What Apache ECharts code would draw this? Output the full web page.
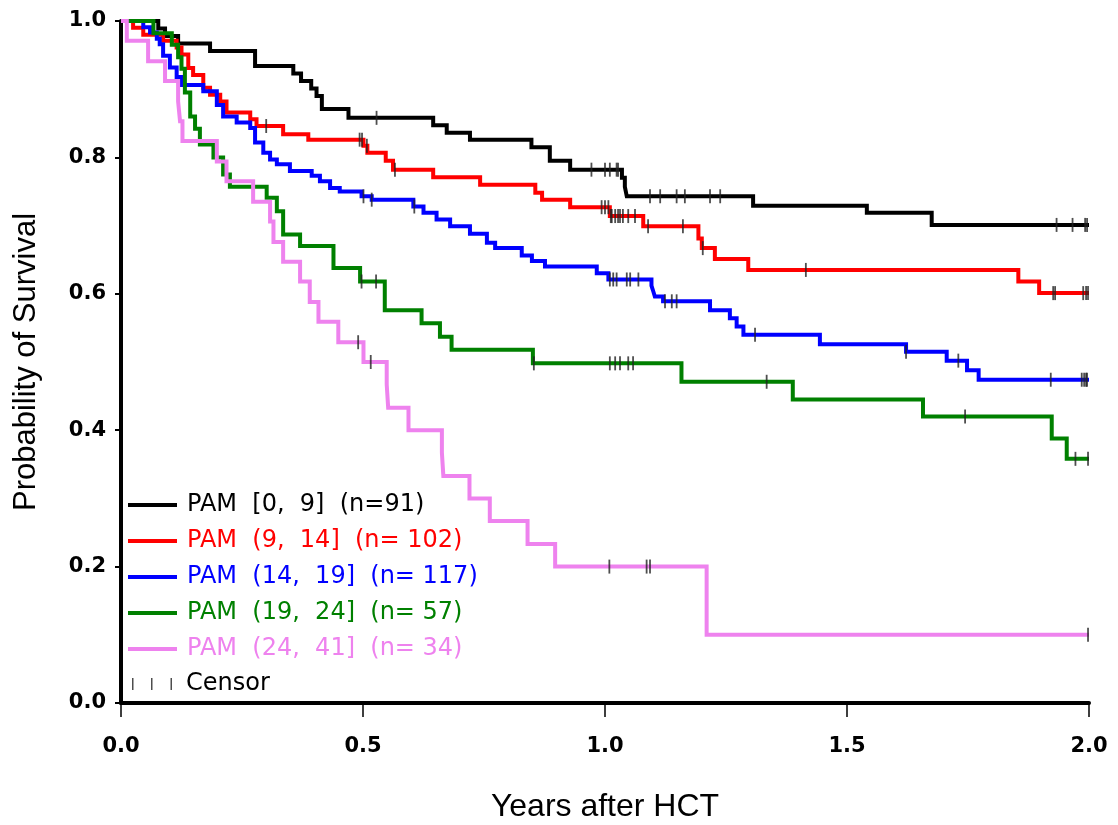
<!DOCTYPE html>
<html>
<head>
<meta charset="utf-8">
<title>Probability of Survival by PAM</title>
<script src="https://cdn.jsdelivr.net/npm/echarts@6/dist/echarts.min.js"></script>
<style>
html, body { margin: 0; padding: 0; background: #fff; }
#main { width: 1118px; height: 825px; }
</style>
</head>
<body>
<div id="main"></div>
<script>
// axis ticks
var xTickValues = [0, 0.5, 1.0, 1.5, 2.0];
var xTickLabels = ['0.0', '0.5', '1.0', '1.5', '2.0'];
var yTickValues = [0, 0.2, 0.4, 0.6, 0.8, 1.0];
var yTickLabels = ['0.0', '0.2', '0.4', '0.6', '0.8', '1.0'];

// groups
var groupNames = [
	'PAM  [0,  9]  (n=91)',
	'PAM  (9,  14]  (n= 102)',
	'PAM  (14,  19]  (n= 117)',
	'PAM  (19,  24]  (n= 57)',
	'PAM  (24,  41]  (n= 34)'
];
var groupColors = ['#000000', '#ff0000', '#0000ff', '#008000', '#ee82ee'];

// Kaplan-Meier steps: time of each drop (years) and survival after it
var blackTimes = [0, 0.077, 0.091, 0.118, 0.184, 0.277, 0.356, 0.372, 0.393, 0.404, 0.415, 0.470, 0.645, 0.673, 0.721, 0.848, 0.886, 0.928, 1.035, 1.041, 1.045, 1.306, 1.541, 1.675];
var blackSurv  = [1.0, 0.989, 0.978, 0.967, 0.956, 0.934, 0.923, 0.912, 0.901, 0.890, 0.871, 0.858, 0.847, 0.836, 0.826, 0.815, 0.795, 0.782, 0.770, 0.757, 0.743, 0.729, 0.719, 0.701];
var blackCensor = [0.528, 0.972, 1.000, 1.010, 1.024, 1.027, 1.093, 1.114, 1.148, 1.165, 1.217, 1.238, 1.933, 1.966, 1.992, 1.996];

var redTimes = [0, 0.025, 0.046, 0.087, 0.115, 0.125, 0.139, 0.149, 0.170, 0.184, 0.205, 0.218, 0.267, 0.280, 0.335, 0.387, 0.501, 0.509, 0.547, 0.562, 0.645, 0.742, 0.856, 0.870, 0.928, 1.010, 1.079, 1.193, 1.200, 1.227, 1.296, 1.854, 1.897];
var redSurv  = [1.0, 0.990, 0.980, 0.971, 0.961, 0.951, 0.931, 0.921, 0.902, 0.892, 0.882, 0.866, 0.856, 0.846, 0.834, 0.826, 0.817, 0.807, 0.795, 0.782, 0.771, 0.760, 0.748, 0.738, 0.727, 0.714, 0.699, 0.681, 0.667, 0.651, 0.635, 0.618, 0.601];
var redCensor = [0.300, 0.493, 0.498, 0.508, 0.566, 0.993, 1.000, 1.007, 1.012, 1.014, 1.021, 1.027, 1.031, 1.037, 1.048, 1.062, 1.089, 1.161, 1.202, 1.415, 1.926, 1.930, 1.988, 1.994, 1.998];

var blueTimes = [0, 0.046, 0.060, 0.074, 0.080, 0.087, 0.101, 0.115, 0.125, 0.170, 0.198, 0.211, 0.239, 0.267, 0.277, 0.294, 0.308, 0.322, 0.349, 0.394, 0.411, 0.432, 0.452, 0.497, 0.518, 0.604, 0.625, 0.652, 0.680, 0.721, 0.756, 0.773, 0.828, 0.849, 0.876, 0.983, 1.007, 1.096, 1.100, 1.103, 1.120, 1.217, 1.258, 1.272, 1.286, 1.444, 1.622, 1.706, 1.748, 1.772];
var blueSurv  = [1.0, 0.991, 0.983, 0.974, 0.966, 0.949, 0.932, 0.918, 0.906, 0.897, 0.877, 0.860, 0.851, 0.843, 0.822, 0.807, 0.797, 0.790, 0.780, 0.773, 0.765, 0.755, 0.750, 0.743, 0.738, 0.728, 0.719, 0.709, 0.699, 0.688, 0.675, 0.667, 0.656, 0.648, 0.640, 0.630, 0.621, 0.612, 0.603, 0.596, 0.589, 0.576, 0.564, 0.552, 0.540, 0.526, 0.515, 0.502, 0.488, 0.474];
var blueCensor = [0.501, 0.518, 0.606, 1.010, 1.017, 1.024, 1.045, 1.052, 1.069, 1.124, 1.138, 1.148, 1.310, 1.622, 1.730, 1.921, 1.985, 1.990, 1.994, 1.996];

var greenTimes = [0, 0.067, 0.105, 0.118, 0.125, 0.132, 0.143, 0.153, 0.163, 0.191, 0.211, 0.225, 0.301, 0.322, 0.335, 0.370, 0.439, 0.494, 0.545, 0.621, 0.659, 0.683, 0.851, 1.158, 1.388, 1.657, 1.923, 1.954];
var greenSurv  = [1.0, 0.982, 0.965, 0.947, 0.930, 0.895, 0.860, 0.842, 0.819, 0.800, 0.775, 0.757, 0.741, 0.721, 0.687, 0.670, 0.638, 0.618, 0.576, 0.557, 0.537, 0.518, 0.498, 0.471, 0.445, 0.420, 0.388, 0.358];
var greenCensor = [0.497, 0.527, 0.853, 1.010, 1.021, 1.031, 1.048, 1.058, 1.334, 1.744, 1.972, 1.998];

var pinkTimes = [0, 0.012, 0.056, 0.091, 0.118, 0.122, 0.127, 0.198, 0.218, 0.273, 0.308, 0.315, 0.335, 0.370, 0.390, 0.408, 0.449, 0.501, 0.549, 0.552, 0.594, 0.663, 0.666, 0.720, 0.762, 0.840, 0.897, 1.210];
var pinkSurv  = [1.0, 0.971, 0.941, 0.912, 0.882, 0.853, 0.824, 0.794, 0.765, 0.735, 0.706, 0.676, 0.647, 0.618, 0.588, 0.559, 0.529, 0.500, 0.467, 0.433, 0.400, 0.367, 0.333, 0.300, 0.267, 0.233, 0.200, 0.100];
var pinkCensor = [0.490, 0.516, 1.009, 1.086, 1.093, 1.998];

var X_MAX = 2.0;

var groupTimes = [blackTimes, redTimes, blueTimes, greenTimes, pinkTimes];
var groupSurv = [blackSurv, redSurv, blueSurv, greenSurv, pinkSurv];
var groupCensor = [blackCensor, redCensor, blueCensor, greenCensor, pinkCensor];

/**
 * survival value of a step curve at time t
 */
function survivalAt(times, surv, t) {
	var s = surv[0];
	for(var i = 0; i < times.length; i++) {
		if(times[i] <= t) s = surv[i];
	}
	return s;
}

function buildCurve(times, surv) {
	var pts = [];
	for(var i = 0; i < times.length; i++) {
		pts.push([times[i], surv[i]]);
	}
	pts.push([X_MAX, surv[surv.length - 1]]);
	return pts;
}

var series = [];
for(var g = 0; g < groupNames.length; g++) {
	series.push({
		name: groupNames[g],
		type: 'line',
		step: 'end',
		data: buildCurve(groupTimes[g], groupSurv[g]),
		showSymbol: false,
		clip: false,
		color: groupColors[g],
		lineStyle: { width: 4, join: 'miter' },
		z: 2 + g
	});
}

// censor marks, all groups together
var censorData = [];
for(var g = 0; g < groupCensor.length; g++) {
	groupCensor[g].map(function(t) {
		censorData.push([t, survivalAt(groupTimes[g], groupSurv[g], t)]);
	});
}
series.push({
	name: 'Censor',
	type: 'scatter',
	data: censorData,
	symbol: 'rect',
	symbolSize: [1.8, 14],
	color: '#222222',
	clip: false,
	z: 10
});

var chart = echarts.init(document.getElementById('main'));
chart.setOption({
	animation: false,
	backgroundColor: '#ffffff',
	grid: { left: 121, right: 29, top: 21, bottom: 122, outerBoundsMode: 'none' },
	legend: [{
		orient: 'vertical',
		left: 128,
		top: 493,
		padding: 0,
		itemWidth: 49,
		itemHeight: 4,
		itemGap: 12,
		icon: 'rect',
		selectedMode: false,
		textStyle: { fontFamily: 'DejaVu Sans', fontSize: 24, lineHeight: 24, padding: [0, 0, 0, 5] },
		data: groupNames.map(function(n, i) {
			return { name: n, textStyle: { color: groupColors[i] } };
		})
	}, {
		orient: 'vertical',
		left: 132,
		top: 672,
		padding: 0,
		itemWidth: 42,
		itemHeight: 12,
		selectedMode: false,
		textStyle: { fontFamily: 'DejaVu Sans', fontSize: 24, lineHeight: 24, color: '#000', padding: [0, 0, 0, 8] },
		data: [{
			name: 'Censor',
			icon: 'path://M0,0h1.5v12h-1.5z M19,0h1.5v12h-1.5z M38.5,0h1.5v12h-1.5z'
		}]
	}],
	xAxis: {
		type: 'value',
		min: 0,
		max: X_MAX,
		interval: 0.5,
		offset: 3,
		name: 'Years after HCT',
		nameLocation: 'middle',
		nameGap: 85,
		nameTextStyle: { fontFamily: 'Liberation Sans', fontSize: 32, color: '#000' },
		axisLine: { lineStyle: { color: '#000', width: 4 } },
		axisTick: { length: 14, lineStyle: { color: '#000', width: 1.5 } },
		axisLabel: {
			margin: 30,
			fontFamily: 'DejaVu Sans',
			fontWeight: 'bold',
			fontSize: 21,
			color: '#000',
			formatter: function(v) {
				var i = xTickValues.indexOf(Math.round(v * 10) / 10);
				return i >= 0 ? xTickLabels[i] : '';
			}
		},
		splitLine: { show: false }
	},
	yAxis: {
		type: 'value',
		min: 0,
		max: 1,
		interval: 0.2,
		offset: 3,
		name: 'Probability of Survival',
		nameLocation: 'middle',
		nameGap: 76,
		nameTextStyle: { fontFamily: 'Liberation Sans', fontSize: 31, color: '#000' },
		axisLine: { show: true, lineStyle: { color: '#000', width: 4 } },
		axisTick: { show: true, length: 6, lineStyle: { color: '#000', width: 2 } },
		axisLabel: {
			margin: 12,
			fontFamily: 'DejaVu Sans',
			fontWeight: 'bold',
			fontSize: 21,
			color: '#000',
			formatter: function(v) {
				var i = yTickValues.indexOf(Math.round(v * 10) / 10);
				return i >= 0 ? yTickLabels[i] : '';
			}
		},
		splitLine: { show: false }
	},
	series: series
});
</script>
</body>
</html>
